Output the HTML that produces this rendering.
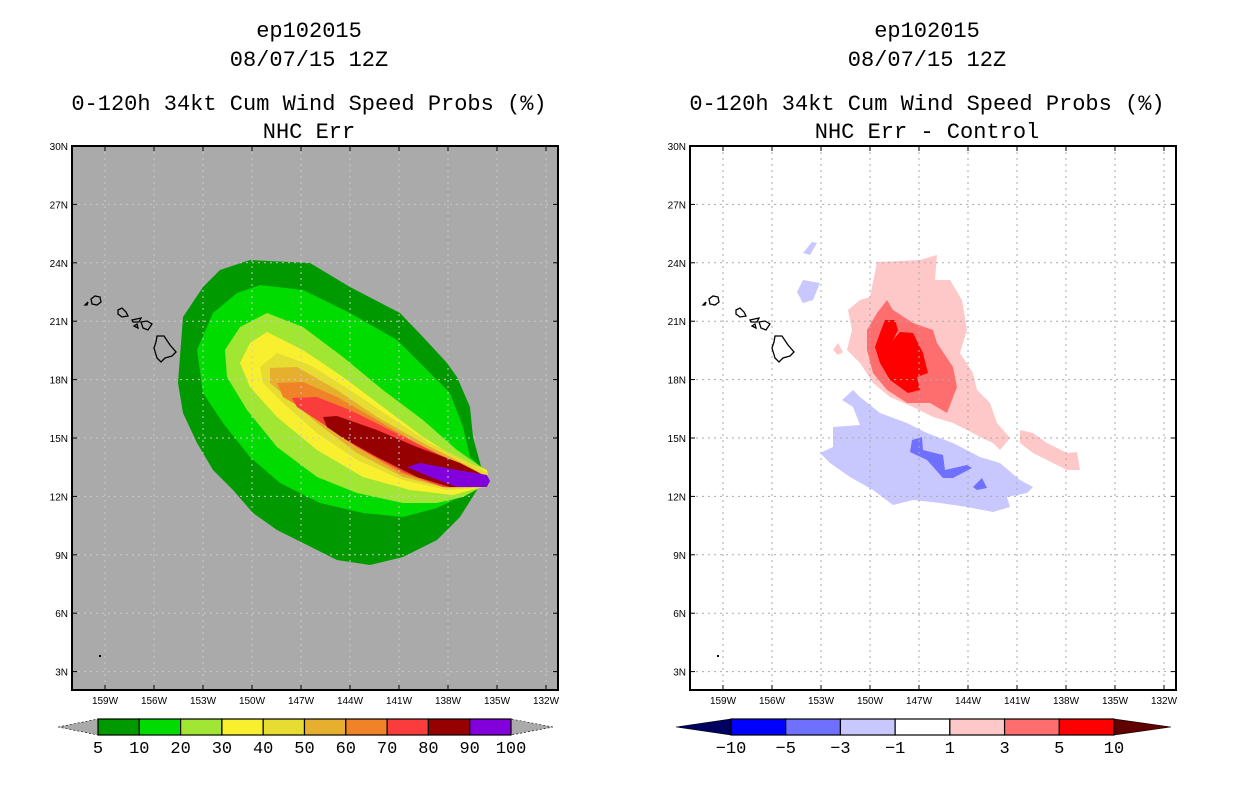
<!DOCTYPE html>
<html><head><meta charset="utf-8"><style>
html,body{margin:0;padding:0;background:#fff;}
svg{display:block;}
.t{font-family:"Liberation Mono",monospace;font-size:22px;fill:#000;}
.tk{font-family:"Liberation Sans",sans-serif;font-size:10px;fill:#000;}
.cb{font-family:"Liberation Mono",monospace;font-size:17px;fill:#000;}
</style></head><body>
<svg id="s" width="1236" height="800" viewBox="0 0 1236 800" xmlns="http://www.w3.org/2000/svg">
<g>
<text class="t" x="309" y="37" text-anchor="middle">ep102015</text>
<text class="t" x="309" y="66" text-anchor="middle">08/07/15 12Z</text>
<text class="t" x="309" y="110" text-anchor="middle">0-120h 34kt Cum Wind Speed Probs (%)</text>
<text class="t" x="309" y="138" text-anchor="middle">NHC Err</text>
</g>
<g>
<text class="t" x="927" y="37" text-anchor="middle">ep102015</text>
<text class="t" x="927" y="66" text-anchor="middle">08/07/15 12Z</text>
<text class="t" x="927" y="110" text-anchor="middle">0-120h 34kt Cum Wind Speed Probs (%)</text>
<text class="t" x="927" y="138" text-anchor="middle">NHC Err - Control</text>
</g>
<rect x="72" y="146" width="486" height="544" fill="#aaaaaa"/>
<rect x="690" y="146" width="486" height="544" fill="#ffffff"/>
<g id="lc"></g>
<g id="rc"></g>
<g id="grid"></g>
<g id="isl"></g>
<rect x="72" y="146" width="486" height="544" fill="none" stroke="#000" stroke-width="2"/>
<rect x="690" y="146" width="486" height="544" fill="none" stroke="#000" stroke-width="2"/>
<g id="ticks"></g>
<g id="cbs"></g>
</svg>
<script>
var lonTicks=[159,156,153,150,147,144,141,138,135,132];
var latTicks=[30,27,24,21,18,15,12,9,6,3];
var leftLevels=["5","10","20","30","40","50","60","70","80","90","100"];
var leftColors=["#009a00","#00dc00","#a0e632","#f8f02e","#e6dc32","#e6af2d","#f08228","#fa3c3c","#960000","#8200dc"];
var rightLevels=["-10","-5","-3","-1","1","3","5","10"];
var rightColors=["#0000ff","#7070ff","#c8c8ff","#ffffff","#ffc8c8","#ff6e6e","#ff0000"];
var rightEnds=["#000060","#600000"];

var NS="http://www.w3.org/2000/svg";
function mk(t,a,p){var e=document.createElementNS(NS,t);for(var k in a)e.setAttribute(k,a[k]);p.appendChild(e);return e;}
function lonX(lon,off){return 105+(159-lon)/3*49+off;}
function latY(lat){return 146+(30-lat)/3*58.4;}

var L=[
["#009a00","250,260 310,263 350,287 400,313 423,337 447,363 457,377 470,407 473,437 482,470 477,490 460,517 437,540 403,557 370,565 337,560 303,543 277,530 253,513 233,490 213,470 197,443 183,413 178,383 183,317 203,287 220,270"],
["#00dc00","260,285 303,290 350,313 397,340 427,370 450,393 463,427 470,457 484,470 483,482 460,497 437,508 403,517 363,513 320,503 280,483 250,457 223,423 203,393 197,350 213,313 237,293"],
["#a0e632","267,313 303,327 343,357 383,390 423,420 457,450 480,466 487,470 489,483 463,497 437,503 403,503 357,493 317,477 277,447 247,410 227,377 225,350 240,327"],
["#f8f02e","267,332 303,350 343,377 383,407 423,437 460,460 487,470 489,485 453,495 410,490 363,477 317,450 277,417 250,387 240,363 250,343"],
["#e6dc32","277,353 310,365 350,390 390,417 430,443 470,463 488,473 488,487 447,490 403,480 357,460 317,433 283,403 263,383 260,367"],
["#e6af2d","270,368 297,367 337,390 377,417 423,443 470,467 488,477 487,487 447,488 403,477 357,453 317,423 287,397 270,383"],
["#f08228","277,383 303,382 337,397 377,420 423,447 470,468 488,478 487,487 443,487 400,473 357,447 317,417 283,397"],
["#fa3c3c","292,398 317,397 350,410 390,430 430,450 470,470 488,479 487,487 443,487 403,472 357,447 317,420 297,407"],
["#960000","323,417 337,416 377,430 417,447 460,463 487,477 487,487 450,487 417,477 377,457 343,438 327,427"],
["#8200dc","407,467 420,463 457,470 487,475 490,481 487,487 457,487 430,477"]
];
var lc=document.getElementById('lc');
L.forEach(function(c,i){var p=mk('polygon',{points:c[1],fill:c[0]},lc);

});

var R=[
["#c8c8ff","803,253 812,242 817,243 810,255"],
["#c8c8ff","797,292 803,280 820,283 813,300 803,303"],
["#ffc8c8","877,262 920,260 937,255 935,280 950,280 962,300 967,330 960,353 973,373 977,390 990,403 997,423 1010,438 1000,450 993,443 980,437 967,430 953,423 933,417 913,407 890,397 873,383 860,363 847,350 852,330 848,310 860,300 870,297"],
["#ffc8c8","1020,430 1033,433 1047,443 1067,453 1077,452 1080,470 1067,470 1053,463 1033,453 1020,443"],
["#ffc8c8","833,350 838,343 843,352 838,355"],
["#ff6e6e","887,300 893,310 913,323 933,330 937,343 953,367 957,387 947,413 930,403 907,403 887,390 873,373 867,350 867,330 877,313"],
["#ff0000","885,320 895,320 898,330 893,340 900,332 913,333 923,353 928,373 917,377 920,390 908,393 890,380 880,363 875,347 880,333"],
["#c8c8ff","853,390 860,397 880,413 907,423 927,433 953,443 980,457 1000,463 1020,480 1033,487 1027,493 1007,497 1010,507 993,512 967,507 940,503 913,500 893,505 873,490 850,477 830,463 820,453 833,447 833,427 860,425 853,407 842,400"],
["#7070ff","912,440 922,437 923,450 943,455 945,470 967,465 972,468 953,478 943,478 927,460 910,452"],
["#7070ff","973,487 982,478 987,488 977,490"]
];
var rc=document.getElementById('rc');
R.forEach(function(c,i){var p=mk('polygon',{points:c[1],fill:c[0]},rc);

});

// grid
var g=document.getElementById('grid');
[0,618].forEach(function(off){
 var col=off?"#aaaaaa":"#c8c8c8";
 lonTicks.forEach(function(l){var x=lonX(l,off);
  var e=mk('line',{x1:x,x2:x,y1:146,y2:690,stroke:col,'stroke-width':1,'stroke-dasharray':'2,4'},g);
  
  });
 latTicks.forEach(function(l){var y=latY(l);
  var e=mk('line',{x1:72+off,x2:558+off,y1:y,y2:y,stroke:col,'stroke-width':1,'stroke-dasharray':'2,4'},g);
  
  });
});

// islands
var I=["91,299 95,296 100,297 101,302 97,305 92,304","85,305 88,302 87,305",
"118,310 122,308 126,312 128,316 122,317 118,314","132,320 141,318 139,322 133,322",
"134,326 137,324 138,328","141,322 147,321 152,324 148,330 143,328",
"157,336 164,336 170,345 176,352 172,356 165,358 161,362 157,358 154,348 156,342"];
var isl=document.getElementById('isl');
[0,618].forEach(function(off){I.forEach(function(pts){
 var p=mk('polygon',{points:pts,fill:'none',stroke:'#000','stroke-width':1.3,transform:'translate('+off+',0)'},isl);
 
 });
 var d=mk('rect',{x:99+off,y:655,width:2,height:2,fill:'#000'},isl);
 
 
});

// ticks + labels
var tk=document.getElementById('ticks');
[0,618].forEach(function(off){
 lonTicks.forEach(function(l){var x=lonX(l,off);
  mk('line',{x1:x,x2:x,y1:690,y2:685,stroke:'#000'},tk);
  mk('line',{x1:x,x2:x,y1:146,y2:151,stroke:'#000'},tk);
  var t=mk('text',{x:x,y:704,'text-anchor':'middle','class':'tk'},tk);t.textContent=l+'W';
  
  });
 latTicks.forEach(function(l){var y=latY(l);
  mk('line',{x1:72+off,x2:77+off,y1:y,y2:y,stroke:'#000'},tk);
  mk('line',{x1:558+off,x2:553+off,y1:y,y2:y,stroke:'#000'},tk);
  var t=mk('text',{x:68+off,y:y+4,'text-anchor':'end','class':'tk'},tk);t.textContent=l+'N';
  
  });
});

// colorbars
var cb=document.getElementById('cbs');
function bar(x0,x1,x2,x3,cols,levels,endL,endR,nm){
 var n=cols.length,w=(x2-x1)/n,y0=719,y1=735,ym=(y0+y1)/2;
 var a=mk('polygon',{points:x0+','+ym+' '+x1+','+y0+' '+x1+','+y1,fill:endL,stroke:'#000','stroke-width':0.6,'stroke-dasharray':endL=='#aaaaaa'?'2,2':''},cb);
 
 
 var b=mk('polygon',{points:x3+','+ym+' '+x2+','+y0+' '+x2+','+y1,fill:endR,stroke:'#000','stroke-width':0.6,'stroke-dasharray':endR=='#aaaaaa'?'2,2':''},cb);
 
 
 cols.forEach(function(c,i){var r=mk('rect',{x:x1+i*w,y:y0,width:w,height:y1-y0,fill:c,stroke:'#000','stroke-width':1.2},cb);
  
  });
 levels.forEach(function(l,i){var t=mk('text',{x:x1+i*w,y:753,'text-anchor':'middle','class':'cb'},cb);t.textContent=l.replace('-','\u2212');
  
  });
}
bar(58,98,511,553,leftColors,leftLevels,'#aaaaaa','#aaaaaa','left-colorbar');
bar(676,731,1114,1171,rightColors,rightLevels,rightEnds[0],rightEnds[1],'right-colorbar');
</script>
</body></html>
